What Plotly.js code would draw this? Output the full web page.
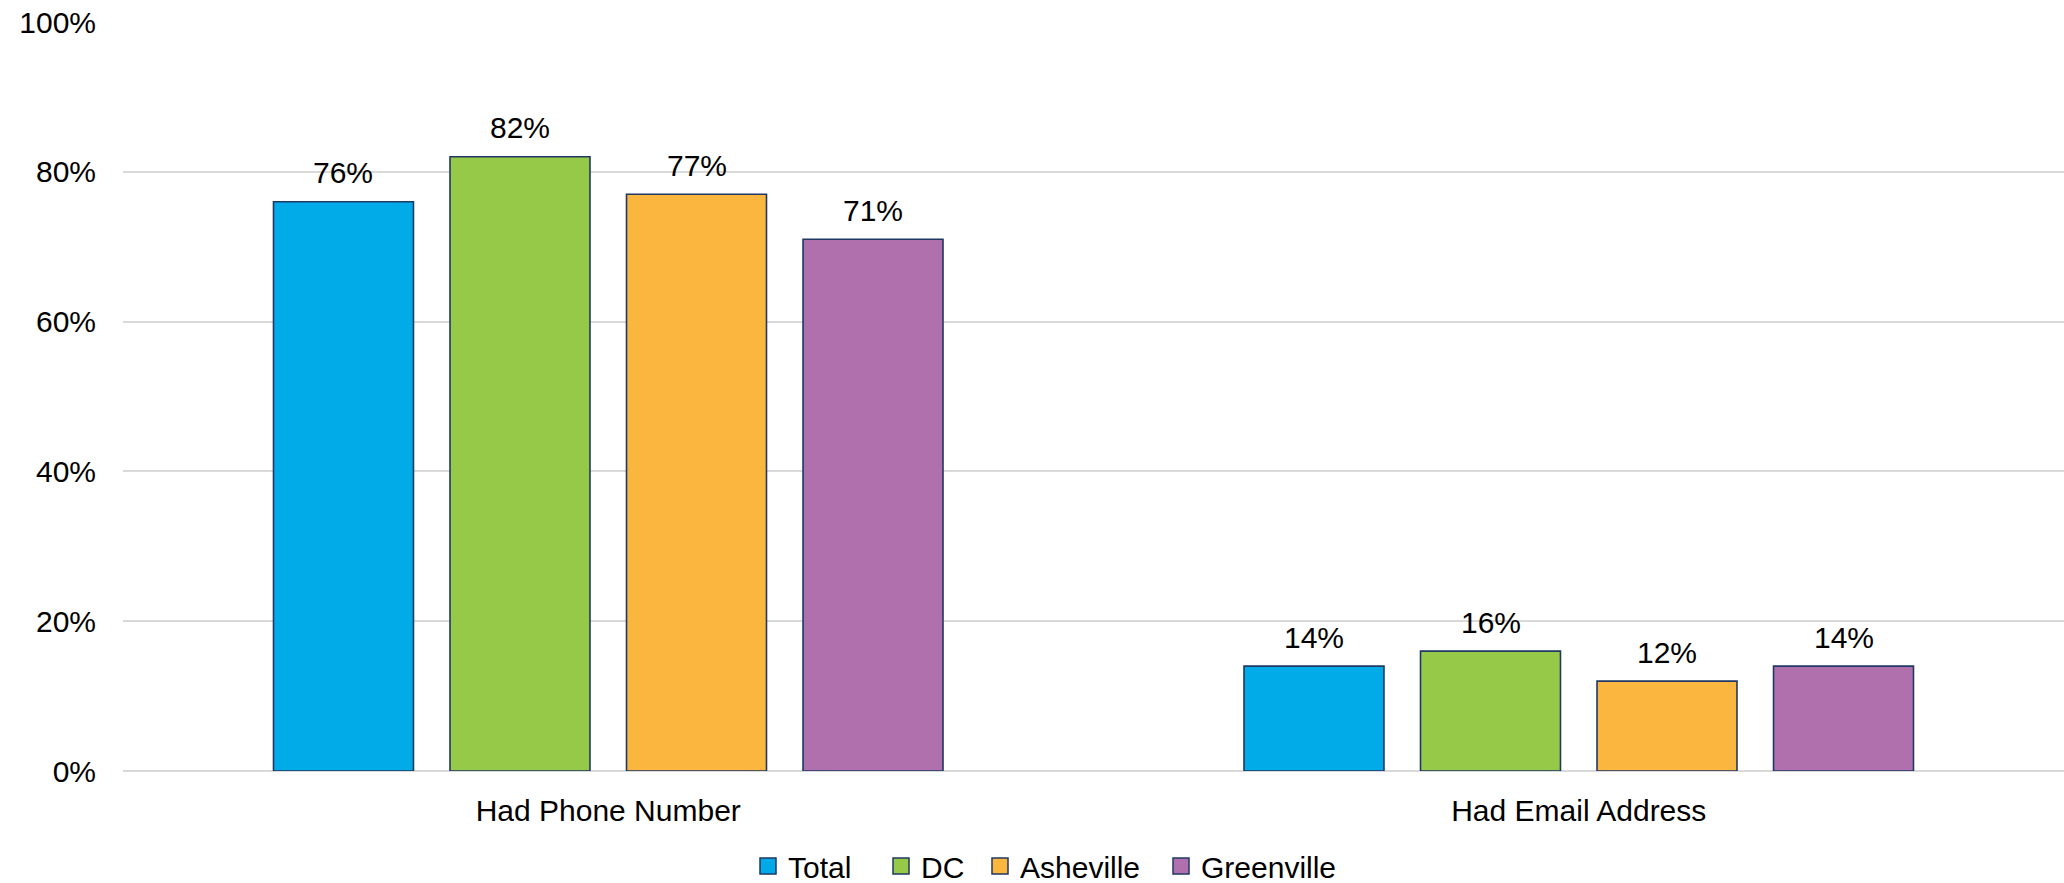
<!DOCTYPE html>
<html>
<head>
<meta charset="utf-8">
<script src="https://cdn.plot.ly/plotly-3.0.1.min.js"></script>
<style>
  html, body { margin: 0; padding: 0; background: #ffffff; }
  #chart { width: 2064px; height: 883px; }
</style>
</head>
<body>
<div id="chart"></div>
<script>
// Share of records with each contact field, by site
const categories = ['Had Phone Number', 'Had Email Address'];
const seriesNames = ['Total', 'DC', 'Asheville', 'Greenville'];
const totalValues = [76, 14];
const dcValues = [82, 16];
const ashevilleValues = [77, 12];
const greenvilleValues = [71, 14];
const yTickValues = [0, 20, 40, 60, 80, 100];
const yTickLabels = ['0%', '20%', '40%', '60%', '80%', '100%'];

const seriesValues = [totalValues, dcValues, ashevilleValues, greenvilleValues];
const seriesColors = ['#00ABE7', '#96C947', '#FBB63F', '#B070AE'];
const outline = '#1F3864';
const fontFamily = '"Liberation Sans", Arial, sans-serif';

const bargap = 0.2725;
const bargroupgap = 0.207;

// left edge (px) of each legend entry in the row below the chart
const legendLeft = [748, 881, 980, 1161];
const legendIds = ['legend', 'legend2', 'legend3', 'legend4'];

const traces = [];
// bars (legend entries are drawn by marker-only traces below)
seriesValues.forEach((vals, i) => {
  traces.push({
    type: 'bar',
    name: seriesNames[i],
    x: categories,
    y: vals,
    marker: { color: seriesColors[i], line: { color: outline, width: 1.6 } },
    showlegend: false,
    hoverinfo: 'x+y+name'
  });
});
// legend swatches, one legend per series so each entry can be placed
seriesValues.forEach((vals, i) => {
  traces.push({
    type: 'scatter',
    mode: 'markers',
    name: seriesNames[i],
    legend: legendIds[i],
    x: [categories[0]],
    y: [null],
    marker: { symbol: 'square', size: 16, color: seriesColors[i], line: { color: outline, width: 1.5 } },
    showlegend: true,
    hoverinfo: 'skip'
  });
});

// value labels above each bar
const slot = (1 - bargap) / seriesValues.length;
const annotations = [];
seriesValues.forEach((vals, i) => {
  vals.forEach((v, j) => {
    annotations.push({
      x: j + (i - (seriesValues.length - 1) / 2) * slot,
      y: v,
      xref: 'x', yref: 'y',
      text: v + '%',
      showarrow: false,
      yanchor: 'middle',
      yshift: 29,
      font: { family: fontFamily, size: 30, color: '#000000' }
    });
  });
});

const W = 2064, H = 883;
const layout = {
  width: W,
  height: H,
  margin: { l: 123, r: 0, t: 22, b: 112 },
  paper_bgcolor: '#ffffff',
  plot_bgcolor: '#ffffff',
  font: { family: fontFamily, size: 30, color: '#000000' },
  barmode: 'group',
  bargap: bargap,
  bargroupgap: bargroupgap,
  xaxis: {
    type: 'category',
    categoryorder: 'array',
    categoryarray: categories,
    range: [-0.5, 1.5],
    showgrid: false,
    showline: false,
    ticks: '',
    ticklabelstandoff: 19,
    tickfont: { family: fontFamily, size: 30, color: '#000000' },
    fixedrange: true
  },
  yaxis: {
    range: [0, 100],
    tickvals: yTickValues,
    ticktext: yTickLabels,
    showgrid: true,
    gridcolor: '#D9D9D9',
    gridwidth: 2,
    zeroline: true,
    zerolinecolor: '#D9D9D9',
    zerolinewidth: 2,
    showline: false,
    ticks: '',
    ticklabelstandoff: 26,
    tickfont: { family: fontFamily, size: 30, color: '#000000' },
    fixedrange: true
  },
  annotations: annotations,
  showlegend: true
};

legendIds.forEach((id, i) => {
  layout[id] = {
    orientation: 'h',
    xref: 'container',
    yref: 'container',
    x: legendLeft[i] / W,
    xanchor: 'left',
    y: (H - 866) / H,
    yanchor: 'middle',
    font: { family: fontFamily, size: 30, color: '#000000' },
    itemsizing: 'trace',
    bgcolor: 'rgba(0,0,0,0)',
    borderwidth: 0
  };
});

Plotly.newPlot('chart', traces, layout, { displayModeBar: false, staticPlot: true });
</script>
</body>
</html>
